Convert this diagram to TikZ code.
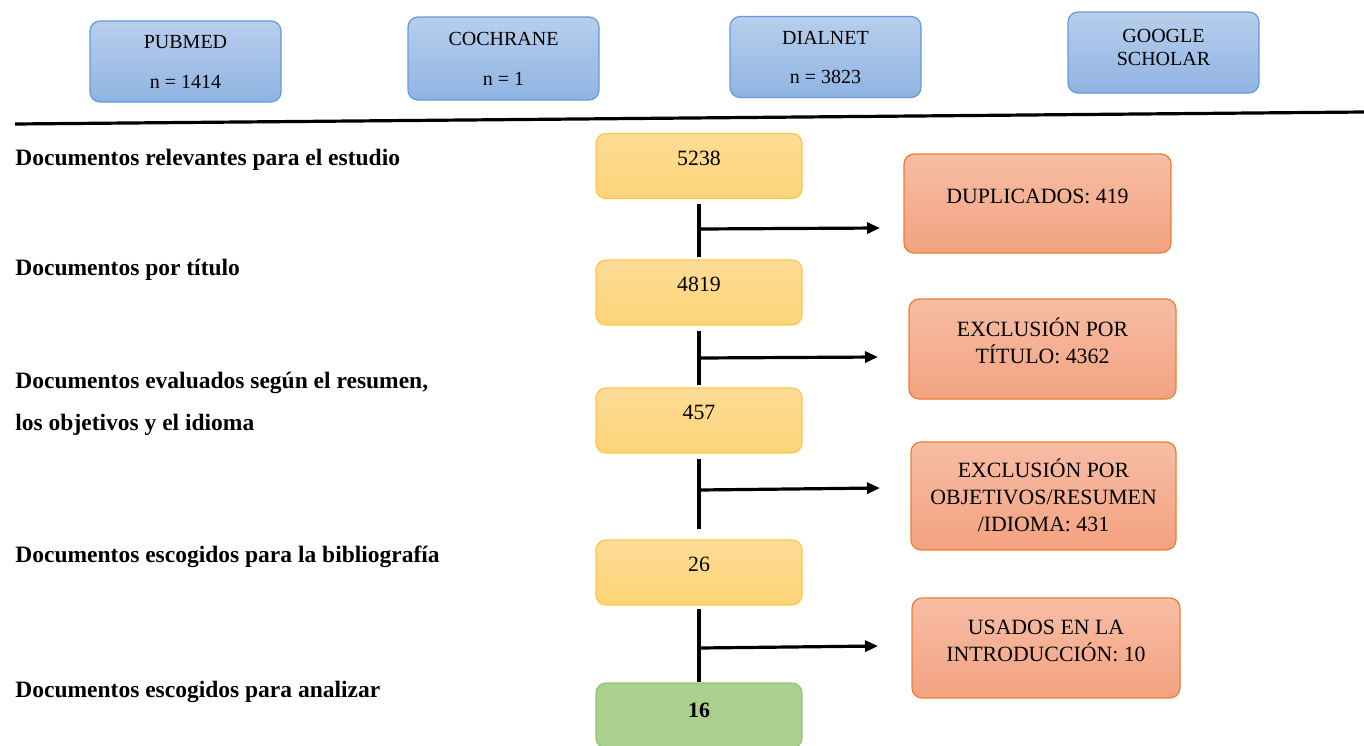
\documentclass[tikz,border=0pt]{standalone}
\usepackage{fontspec}
\setmainfont{Liberation Serif}
\usetikzlibrary{arrows.meta}
\definecolor{blueT}{RGB}{184,206,236}
\definecolor{blueBot}{RGB}{143,180,227}
\definecolor{blueB}{RGB}{100,155,213}
\definecolor{yelT}{RGB}{254,220,150}
\definecolor{yelBot}{RGB}{254,212,120}
\definecolor{yelB}{RGB}{250,200,70}
\definecolor{orT}{RGB}{247,189,165}
\definecolor{orBot}{RGB}{243,162,128}
\definecolor{orB}{RGB}{237,125,49}
\definecolor{grF}{RGB}{169,208,142}
\definecolor{grB}{RGB}{150,195,120}
\begin{document}
\begin{tikzpicture}[x=0.5pt,y=-0.5pt,
  base/.style={rounded corners=5pt, line width=0.6pt, align=center, inner sep=0pt,
    font=\fontsize{10.9}{13.5}\selectfont},
  srcbox/.style={base, draw=blueB, top color=blueT, bottom color=blueBot,
    minimum width=95.5pt, minimum height=40.5pt, font=\fontsize{10}{12.5}\selectfont},
  stagebox/.style={base, draw=yelB, top color=yelT, bottom color=yelBot,
    minimum width=103pt, minimum height=32.5pt, text height=7.3pt, text depth=8pt},
  finalbox/.style={base, draw=grB, fill=grF, font=\fontsize{10.9}{13.5}\selectfont\bfseries,
    minimum width=103pt, minimum height=32.5pt, text height=7.3pt, text depth=5.5pt},
  exclbox/.style={base, draw=orB, top color=orT, bottom color=orBot,
    minimum width=133.5pt},
  lbl/.style={anchor=west, inner sep=0pt, font=\fontsize{11.75}{14}\selectfont\bfseries},
  vline/.style={line width=1.6pt},
  harrow/.style={line width=1.6pt, -{Triangle[length=6.5pt,width=5.5pt]}}
]
\clip (0,0) rectangle (1364,745);
\useasboundingbox (0,0) rectangle (1364,745);

% source boxes
\node[srcbox] (pub) at (185.5,61.5) {PUBMED\\[7.5pt] n = 1414};
\node[srcbox, minimum height=41.5pt] (coc) at (503.5,58.5) {COCHRANE\\[7.5pt] n = 1};
\node[srcbox] (dia) at (825.5,57) {DIALNET\\[7pt] n = 3823};
\node[srcbox, text depth=5pt, font=\fontsize{10}{11.5}\selectfont] (goo) at (1163.5,52.5) {GOOGLE\\SCHOLAR};

% separator line
\draw[line width=1.6pt] (15,124) -- (1364,112);

% left labels
\node[lbl] (l1) at (15,160) {Documentos relevantes para el estudio};
\node[lbl] (l2) at (15,270) {Documentos por título};
\node[lbl, align=left, font=\fontsize{11.75}{21}\selectfont\bfseries] (l3) at (15,404)
  {Documentos evaluados según el resumen,\\los objetivos y el idioma};
\node[lbl] (l4) at (15,557) {Documentos escogidos para la bibliografía};
\node[lbl] (l5) at (15,692) {Documentos escogidos para analizar};

% stage boxes
\node[stagebox] (s1) at (699,166) {5238};
\node[stagebox] (s2) at (699,292.5) {4819};
\node[stagebox] (s3) at (699,420.5) {457};
\node[stagebox] (s4) at (699,572.5) {26};
\node[finalbox] (s5) at (699,715.5) {16};

% exclusion boxes
\node[exclbox, minimum height=49.5pt, text depth=7.5pt] (e1) at (1037.5,203.5) {DUPLICADOS: 419};
\node[exclbox, minimum height=50pt, text depth=8pt] (e2) at (1042.5,349) {EXCLUSIÓN POR\\TÍTULO: 4362};
\node[exclbox, minimum width=132.5pt, minimum height=54pt, text depth=1pt] (e3) at (1043.5,496) {EXCLUSIÓN POR\\OBJETIVOS/RESUMEN\\/IDIOMA: 431};
\node[exclbox, minimum width=134pt, minimum height=50pt, text depth=7pt] (e4) at (1046,648) {USADOS EN LA\\INTRODUCCIÓN: 10};

% vertical flow lines
\draw[vline, shorten <=2.5pt, shorten >=1pt] (s1.south) -- (s2.north);
\draw[vline, shorten <=2.5pt, shorten >=1pt] (s2.south) -- (s3.north);
\draw[vline, shorten <=2.5pt, shorten >=5pt] (s3.south) -- (s4.north);
\draw[vline, shorten <=1.5pt] (s4.south) -- (s5.north);

% branch arrows
\coordinate (j1) at (699,229);  \coordinate (t1) at (880,228);
\coordinate (j2) at (699,358);  \coordinate (t2) at (878,357);
\coordinate (j3) at (699,490);  \coordinate (t3) at (880,488);
\coordinate (j4) at (699,648);  \coordinate (t4) at (878,646);
\draw[harrow] (j1) -- (t1);
\draw[harrow] (j2) -- (t2);
\draw[harrow] (j3) -- (t3);
\draw[harrow] (j4) -- (t4);
\end{tikzpicture}
\end{document}
